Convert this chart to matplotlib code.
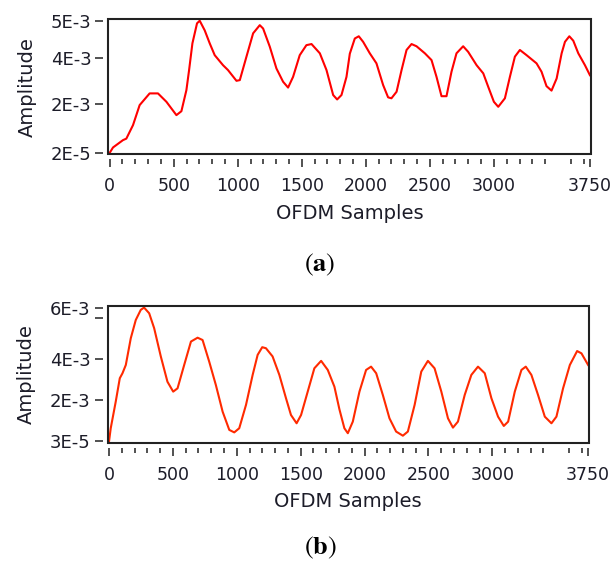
import matplotlib
matplotlib.use('Agg')
import matplotlib.pyplot as plt
from matplotlib.patches import Rectangle
import numpy as np

# ---- data (amplitude in units of 1E-3) ----
samples_a = [0, 26, 104, 130, 182, 234, 312, 377, 443, 521, 560, 599, 620, 646, 682, 703,
             742, 781, 820, 885, 924, 990, 1016, 1068, 1120, 1172, 1198, 1250, 1302, 1354,
             1393, 1432, 1484, 1536, 1576, 1641, 1693, 1745, 1776, 1810, 1849, 1875, 1914,
             1945, 1979, 2031, 2083, 2135, 2174, 2200, 2240, 2279, 2318, 2357, 2396, 2461,
             2513, 2552, 2591, 2630, 2669, 2708, 2760, 2799, 2865, 2917, 2956, 3000, 3034,
             3086, 3125, 3164, 3203, 3255, 3333, 3372, 3411, 3450, 3490, 3529, 3555, 3589,
             3620, 3659, 3711, 3750]
amp_a = [0.02, 0.24, 0.54, 0.60, 1.15, 1.97, 2.47, 2.47, 2.11, 1.56, 1.72, 2.61, 3.47, 4.39,
         4.93, 5.00, 4.74, 4.39, 4.07, 3.68, 3.47, 3.01, 3.04, 4.03, 4.66, 4.88, 4.79, 4.30,
         3.54, 2.97, 2.72, 3.18, 4.07, 4.34, 4.37, 4.12, 3.47, 2.40, 2.21, 2.40, 3.18, 4.11,
         4.52, 4.58, 4.43, 4.12, 3.76, 2.83, 2.30, 2.26, 2.54, 3.47, 4.21, 4.37, 4.31, 4.12,
         3.90, 3.18, 2.35, 2.35, 3.40, 4.12, 4.31, 4.16, 3.68, 3.33, 2.75, 2.11, 1.90, 2.26,
         3.18, 4.03, 4.21, 4.07, 3.76, 3.40, 2.78, 2.59, 3.11, 4.12, 4.43, 4.58, 4.46, 4.12,
         3.68, 3.25]

samples_b = [0, 13, 52, 84, 105, 131, 170, 209, 248, 274, 314, 353, 405, 457, 502, 536, 588,
             641, 693, 732, 784, 836, 889, 941, 980, 1019, 1072, 1124, 1163, 1199, 1228, 1280,
             1333, 1385, 1424, 1468, 1503, 1555, 1607, 1660, 1712, 1764, 1803, 1842, 1869,
             1908, 1960, 2012, 2051, 2091, 2143, 2195, 2247, 2300, 2339, 2392, 2444, 2496,
             2548, 2601, 2653, 2692, 2731, 2784, 2836, 2888, 2941, 2993, 3045, 3090, 3124,
             3176, 3228, 3262, 3306, 3358, 3411, 3463, 3502, 3554, 3607, 3664, 3698, 3750]
amp_b = [0.03, 0.65, 1.93, 3.07, 3.31, 3.71, 4.81, 5.52, 5.91, 6.00, 5.78, 5.20, 4.10, 2.90,
         2.42, 2.58, 3.71, 4.68, 4.83, 4.74, 3.87, 2.74, 1.45, 0.57, 0.45, 0.65, 1.78, 3.23,
         4.16, 4.46, 4.42, 4.10, 3.23, 2.10, 1.29, 0.89, 1.29, 2.42, 3.55, 3.91, 3.47, 2.66,
         1.57, 0.65, 0.41, 0.97, 2.42, 3.47, 3.63, 3.31, 2.26, 1.13, 0.49, 0.29, 0.49, 1.78,
         3.39, 3.91, 3.55, 2.42, 1.13, 0.68, 0.97, 2.26, 3.23, 3.63, 3.31, 2.10, 1.21, 0.76,
         0.97, 2.42, 3.47, 3.63, 3.23, 2.26, 1.21, 0.89, 1.21, 2.58, 3.71, 4.31, 4.22, 3.71]

xticks = [0, 500, 1000, 1500, 2000, 2500, 3000, 3750]
yticks_a = [0.02, 2, 4, 5]
ylabels_a = ['2E-5', '2E-3', '4E-3', '5E-3']
yticks_b = [0.03, 2, 4, 5.61, 6]
ylabels_b = ['3E-5', '2E-3', '4E-3', '', '6E-3']

# the graph's amplitude axis is not linear: where each tick sits (axes fraction)
yfrac_a = [0.0, 0.012, 0.371, 0.716, 0.99, 1.0]
yamp_a = [-0.046, 0.02, 2, 4, 5, 5.037]
yfrac_b = [0.0, 0.012, 0.31, 0.612, 0.914, 0.988, 1.0]
yamp_b = [-0.049, 0.03, 2, 4, 5.61, 6, 6.064]

plt.rcParams['font.family'] = 'DejaVu Sans'
plt.rcParams['mathtext.fontset'] = 'stix'
TXT = '#1c1c28'


def setup_axes(ax, x, y, color, yticks, ylabels, yamp, yfrac):
    fwd = lambda v: np.interp(v, yamp, yfrac)
    inv = lambda f: np.interp(f, yfrac, yamp)
    ax.set_yscale('function', functions=(fwd, inv))
    ax.plot(x, y, color=color, lw=1.5)
    ax.set_xlim(-12, 3757)
    ax.set_ylim(yamp[0], yamp[-1])

    for side in ['top', 'right']:
        ax.spines[side].set_visible(False)
    for side in ['left', 'bottom']:
        ax.spines[side].set_position(('outward', 3.5))
        ax.spines[side].set_color('none')
    ax.add_patch(Rectangle((0, 0), 1, 1, transform=ax.transAxes, fill=False,
                           lw=1.5, ec='#222222', clip_on=False, zorder=5))

    ax.set_xticks(xticks)
    ax.set_xticklabels([str(t) for t in xticks])
    ax.set_xticks([t for t in range(0, 3750, 100) if t % 500 != 0], minor=True)
    ax.set_yticks(yticks)
    ax.set_yticklabels(ylabels)
    ax.yaxis.set_minor_locator(matplotlib.ticker.NullLocator())
    ax.tick_params(axis='x', which='major', length=6, width=1.1, pad=7,
                   labelsize=12.5, labelcolor=TXT, color='#222222')
    ax.tick_params(axis='x', which='minor', length=3.4, width=1.1, color='#222222')
    ax.tick_params(axis='y', length=5.5, width=1.1, pad=3,
                   labelsize=13, labelcolor=TXT, color='#222222')
    ax.set_xlabel('OFDM Samples', fontsize=14, color=TXT, labelpad=6)
    ax.set_ylabel('Amplitude', fontsize=14, color=TXT, labelpad=10)


fig = plt.figure(figsize=(6.11, 5.70), dpi=100)
ax_a = fig.add_axes([0.177, 0.729, 0.790, 0.237])
ax_b = fig.add_axes([0.176, 0.2233, 0.788, 0.240])

setup_axes(ax_a, samples_a, amp_a, '#ff0000', yticks_a, ylabels_a, yamp_a, yfrac_a)
setup_axes(ax_b, samples_b, amp_b, '#ff2a00', yticks_b, ylabels_b, yamp_b, yfrac_b)

fig.text(0.524, 0.535, r'$(\mathbf{a})$', ha='center', va='center', fontsize=19, color='black')
fig.text(0.524, 0.039, r'$(\mathbf{b})$', ha='center', va='center', fontsize=19, color='black')

fig.savefig('out.png', dpi=100)
